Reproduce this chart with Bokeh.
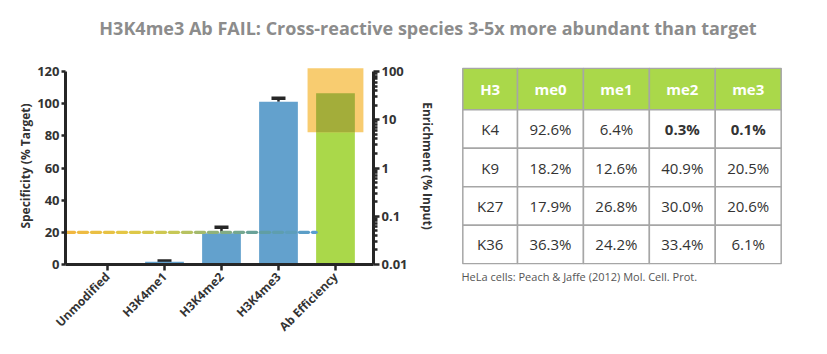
import math
from bokeh.plotting import figure
from bokeh.layouts import column, row
from bokeh.models import (Range1d, LogScale, LogAxis, FixedTicker,
                          CustomJSTickFormatter, Whisker, TeeHead, ColumnDataSource)
from bokeh.core.properties import value
from bokeh.embed import file_html
from bokeh.resources import INLINE

# ---------------- data ----------------
title_text = "H3K4me3 Ab FAIL: Cross-reactive species 3-5x more abundant than target"
categories = ["Unmodified", "H3K4me1", "H3K4me2", "H3K4me3", "Ab Efficiency"]
specificity = [0.0, 1.7, 19.5, 101.2, 106.5]
specificity_err_upper = [0.0, 2.1, 23.2, 103.4, 108.2]
threshold = 20
ab_enrichment_range = [5.5, 117.0]
left_ticks = [0, 20, 40, 60, 80, 100, 120]
right_ticks = [0.01, 0.1, 1, 10, 100]

table_header = ["H3", "me0", "me1", "me2", "me3"]
table_rows = ["K4", "K9", "K27", "K36"]
me0 = ["92.6%", "18.2%", "17.9%", "36.3%"]
me1 = ["6.4%", "12.6%", "26.8%", "24.2%"]
me2 = ["0.3%", "40.9%", "30.0%", "33.4%"]
me3 = ["0.1%", "20.5%", "20.6%", "6.1%"]
bold_cells = [("K4", "me2"), ("K4", "me3")]
caption = "HeLa cells: Peach & Jaffe (2012) Mol. Cell. Prot."

# ---------------- style ----------------
BLUE = "#63a1cd"
GREEN = "#aad84a"
ORANGE = "#f8cc70"
OLIVE = "#a3ad3a"
AXIS = "#262626"
TEXT = "#333333"
FONT = "Open Sans"
BAR_W = 0.68
Y_TOP = 122.5

# ---------------- title strip ----------------
p0 = figure(width=827, height=50, output_backend="svg", toolbar_location=None,
            x_axis_location=None, y_axis_location=None, min_border=0,
            title=title_text)
p0.outline_line_color = None
p0.grid.visible = False
p0.title.align = "center"
p0.title.text_font = FONT
p0.title.text_font_size = "18px"
p0.title.text_font_style = "bold"
p0.title.text_color = "#8c8c8c"
p0.title.standoff = 0
p0.min_border_top = 39
p0.min_border_left = 28

# ---------------- bar chart ----------------
n = len(categories)
xs = list(range(n))
p1 = figure(width=440, height=304, output_backend="svg", toolbar_location=None,
            x_range=Range1d(-0.737, n - 1 + 0.667), y_range=Range1d(0, Y_TOP),
            min_border_left=65, min_border_right=67, min_border_top=17, min_border_bottom=90)
p1.outline_line_color = None
p1.grid.visible = False

bar_colors = [GREEN if c == "Ab Efficiency" else BLUE for c in categories]
p1.vbar(x=xs, top=specificity, width=BAR_W, color=bar_colors, line_color=None)

# right log axis
dec = math.log10(right_ticks[-1]) - math.log10(right_ticks[0])
p1.extra_y_ranges = {"enr": Range1d(right_ticks[0], 10 ** (math.log10(right_ticks[0]) + dec * Y_TOP / left_ticks[-1]))}
p1.extra_y_scales = {"enr": LogScale()}

ab_i = categories.index("Ab Efficiency")
p1.quad(left=[ab_i - 0.49], right=[ab_i + 0.49],
        bottom=[ab_enrichment_range[0]], top=[ab_enrichment_range[1]],
        y_range_name="enr", fill_color=ORANGE, line_color=None)
# overlap of orange box with green bar, expressed on left scale
ov_bottom = (math.log10(ab_enrichment_range[0]) - math.log10(right_ticks[0])) / dec * left_ticks[-1]
p1.quad(left=[ab_i - BAR_W / 2], right=[ab_i + BAR_W / 2],
        bottom=[ov_bottom], top=[specificity[ab_i]], fill_color=OLIVE, line_color=None)

# error bars
eb = [(x, v, e) for x, v, e in zip(xs, specificity, specificity_err_upper) if e > v]
src = ColumnDataSource(dict(base=[a[0] for a in eb], lower=[a[1] for a in eb], upper=[a[2] for a in eb]))
w = Whisker(base="base", lower="lower", upper="upper", source=src,
            line_color=AXIS, line_width=2.5,
            upper_head=TeeHead(size=14, line_width=3.5, line_color=AXIS), lower_head=None)
p1.add_layout(w)

# gradient dashed threshold line
x_start = p1.x_range.start
x_end = ab_i - BAR_W / 2
ppu = 308 / (p1.x_range.end - p1.x_range.start)
dash_u, gap_u = 9 / ppu, 4 / ppu
stops = [(0.0, (242, 182, 64)), (0.25, (226, 200, 70)), (0.45, (196, 200, 88)),
         (0.6, (140, 176, 124)), (0.78, (96, 158, 160)), (1.0, (90, 158, 210))]

def grad(t):
    for (t0, c0), (t1, c1) in zip(stops[:-1], stops[1:]):
        if t <= t1:
            f = (t - t0) / (t1 - t0)
            return "#%02x%02x%02x" % tuple(int(round(a + (b - a) * f)) for a, b in zip(c0, c1))
    return "#%02x%02x%02x" % stops[-1][1]

x0s, x1s, dcol = [], [], []
cur = x_start
while cur < x_end:
    e = min(cur + dash_u, x_end)
    x0s.append(cur); x1s.append(e)
    dcol.append(grad(((cur + e) / 2 - x_start) / (x_end - x_start)))
    cur += dash_u + gap_u
p1.segment(x0=x0s, x1=x1s, y0=[threshold] * len(x0s), y1=[threshold] * len(x0s),
           line_color=dcol, line_width=3.2, line_cap="round")

# axes styling
yl = p1.yaxis[0]
yl.ticker = FixedTicker(ticks=left_ticks)
yl.bounds = (left_ticks[0], left_ticks[-1])
yl.axis_label = "Specificity (% Target)"

rax = LogAxis(y_range_name="enr", axis_label="Enrichment (% Input)")
rax.ticker = FixedTicker(ticks=right_ticks,
                         minor_ticks=[m * 10 ** e for e in range(-2, 2) for m in range(2, 10)])
rax.formatter = CustomJSTickFormatter(code="return String(tick)")
rax.bounds = (right_ticks[0], right_ticks[-1])
p1.add_layout(rax, "right")

xa = p1.xaxis[0]
xa.ticker = FixedTicker(ticks=xs)
xa.major_label_overrides = {i: c for i, c in enumerate(categories)}
xa.major_label_orientation = math.pi / 4

for ax in [yl, rax, xa]:
    ax.axis_line_width = 3
    ax.axis_line_color = AXIS
    ax.major_tick_line_color = AXIS
    ax.major_tick_line_width = 2.5
    ax.major_tick_in = 0
    ax.major_label_text_font = FONT
    ax.major_label_text_font_style = "bold"
    ax.major_label_text_color = TEXT
    ax.axis_label_text_font = FONT
    ax.axis_label_text_font_style = "bold"
    ax.axis_label_text_color = TEXT
    ax.axis_label_text_font_size = "12px"
    ax.major_label_text_font_size = "12px"

yl.major_tick_out = 4
yl.major_label_standoff = 2
yl.axis_label_standoff = 0
yl.minor_tick_line_color = None
xa.major_tick_out = 6
xa.major_label_standoff = 4
xa.minor_tick_line_color = None
rax.major_tick_out = 6
rax.minor_tick_out = 4
rax.minor_tick_in = 0
rax.minor_tick_line_color = AXIS
rax.minor_tick_line_width = 2.5
rax.major_label_standoff = 2
rax.axis_label_standoff = 8
rax.major_label_text_font_size = "13px"
yl.major_label_text_font_size = "13px"

# ---------------- table ----------------
col_w = [0.83, 1, 1, 1, 1]
head_h = 1.08
edges = [0]
for cw in col_w:
    edges.append(edges[-1] + cw)
centers = [(a + b) / 2 for a, b in zip(edges[:-1], edges[1:])]
pad = 0.02

# frame of p2 is row-aligned with p1's frame (same top/bottom borders)
p2 = figure(width=387, height=304, output_backend="svg", toolbar_location=None,
            x_range=Range1d(edges[0] - pad, edges[-1] + pad),
            y_range=Range1d(head_h + len(table_rows) + pad, -pad),
            x_axis_location=None, y_axis_location=None,
            min_border_left=21, min_border_right=45, min_border_top=17, min_border_bottom=90,
            title=caption, title_location="below")
p2.outline_line_color = None
p2.grid.visible = False
p2.title.align = "left"
p2.title.text_font = FONT
p2.title.text_font_style = "normal"
p2.title.text_font_size = "11px"
p2.title.text_color = "#555555"
p2.title.standoff = 5

BORDER = "#a6a6a6"
CELL_FS = "15px"
p2.rect(x=centers, y=[head_h / 2] * len(centers), width=col_w, height=[head_h] * len(centers),
        fill_color=GREEN, line_color=BORDER, line_width=1.5)
p2.text(x=centers, y=[head_h / 2] * len(centers), text=table_header,
        text_align="center", text_baseline="middle", text_color="white",
        text_font=value(FONT), text_font_style="bold", text_font_size=CELL_FS)

cols = {"me0": me0, "me1": me1, "me2": me2, "me3": me3}
cx, cy, cwid, ctext, bx, by, btext = [], [], [], [], [], [], []
for r, rl in enumerate(table_rows):
    yc = head_h + r + 0.5
    cells = [rl] + [cols[h][r] for h in table_header[1:]]
    for j, t in enumerate(cells):
        cx.append(centers[j]); cy.append(yc); cwid.append(col_w[j])
        if j > 0 and (rl, table_header[j]) in bold_cells:
            bx.append(centers[j]); by.append(yc); btext.append(t)
        else:
            ctext.append((centers[j], yc, t))
p2.rect(x=cx, y=cy, width=cwid, height=[1] * len(cx), fill_color="white",
        line_color=BORDER, line_width=1.5)
p2.text(x=[t[0] for t in ctext], y=[t[1] for t in ctext], text=[t[2] for t in ctext],
        text_align="center", text_baseline="middle", text_color=TEXT,
        text_font=value(FONT), text_font_size=CELL_FS)
p2.text(x=bx, y=by, text=btext, text_align="center", text_baseline="middle",
        text_color=TEXT, text_font=value(FONT), text_font_style="bold", text_font_size=CELL_FS)

layout = column(p0, row(p1, p2))
open("out.html", "w").write(file_html(layout, INLINE))
